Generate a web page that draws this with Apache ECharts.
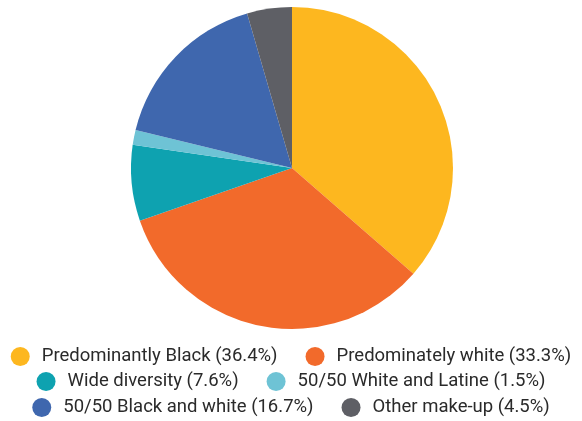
<!DOCTYPE html>
<html><head><meta charset="utf-8">
<script src="https://cdn.jsdelivr.net/npm/echarts@6/dist/echarts.min.js"></script>
<style>html,body{margin:0;padding:0;background:#fff}#c{width:582px;height:421px}</style>
</head><body><div id="c"></div>
<script>
const categories = ["Predominantly Black","Predominately white","Wide diversity","50/50 White and Latine","50/50 Black and white","Other make-up"];
const values = [36.4, 33.3, 7.6, 1.5, 16.7, 4.5];
const colors = ["#FDB71F","#F26A2B","#0EA2B0","#6EC3D5","#3F67AE","#5E5F65"];

const chart = echarts.init(document.getElementById('c'));
const fmt = n => n + ' (' + values[categories.indexOf(n)] + '%)';
const legendBase = {
  left: 'center', orient: 'horizontal', icon: 'circle', padding: 0,
  itemWidth: 19, itemHeight: 19, itemGap: 28,
  textStyle: {fontFamily: 'Roboto', fontSize: 18.5, color: '#2a2a2a', padding: [0,0,0,7]},
  formatter: fmt, selectedMode: false
};
chart.setOption({
  animation: false,
  color: colors,
  legend: [
    Object.assign({}, legendBase, {top: 347, data: categories.slice(0,2)}),
    Object.assign({}, legendBase, {top: 372, data: categories.slice(2,4)}),
    Object.assign({}, legendBase, {top: 398, data: categories.slice(4,6)})
  ],
  series: [{
    type: 'pie', center: [292, 168], radius: 161, startAngle: 90, clockwise: true,
    label: {show: false}, labelLine: {show: false},
    itemStyle: {borderWidth: 0},
    data: categories.map((n, i) => ({name: n, value: values[i]}))
  }]
});
</script></body></html>
